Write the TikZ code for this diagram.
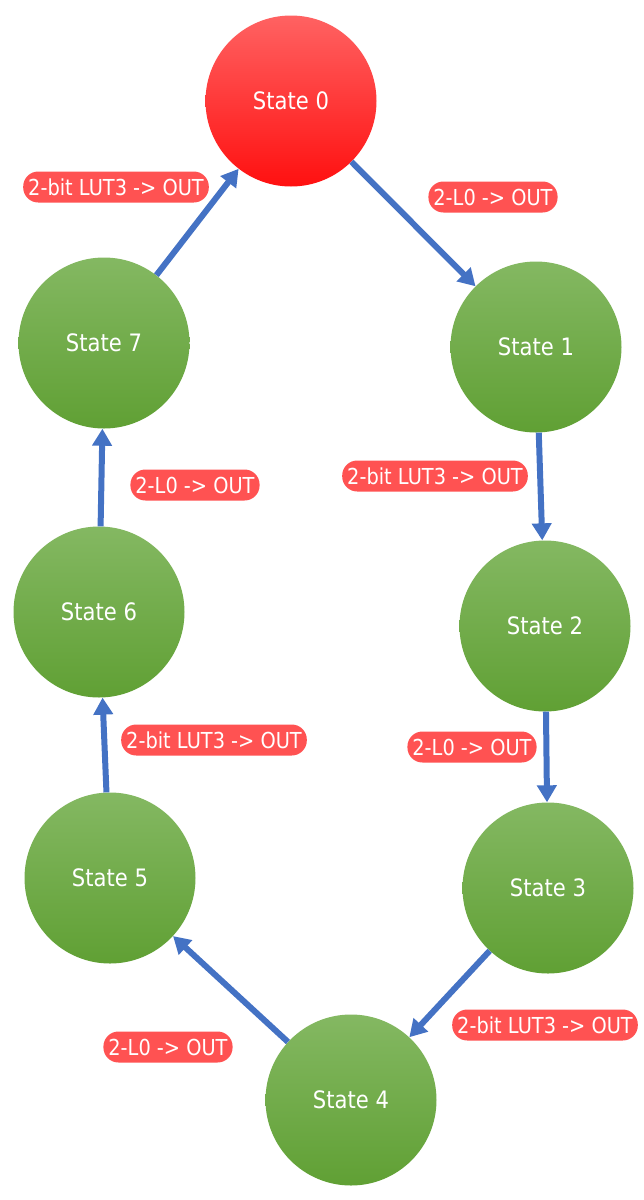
\documentclass[tikz,border=0pt]{standalone}
\usepackage{fontspec}
\setmainfont{DejaVu Sans}[FakeStretch=0.88]
\usetikzlibrary{arrows.meta}
\definecolor{arrowblue}{HTML}{4472C4}
\definecolor{labelred}{HTML}{FF5252}
\definecolor{redtop}{HTML}{FF6262}
\definecolor{redbot}{HTML}{FF1010}
\definecolor{greentop}{HTML}{84B862}
\definecolor{greenbot}{HTML}{60A034}
\tikzset{
  statenode/.style={circle, minimum size=171pt, inner sep=0pt, text=white,
    font=\fontsize{24}{28}\selectfont},
  startstate/.style={statenode, top color=redtop, bottom color=redbot},
  plainstate/.style={statenode, top color=greentop, bottom color=greenbot},
  tlabel/.style={fill=labelred, rounded corners=15pt, text=white, inner xsep=5pt,
    inner ysep=0pt, minimum height=31pt, font=\fontsize{22}{26}\selectfont},
  trans/.style={draw=arrowblue, line width=6pt, -{Triangle[width=19pt,length=17pt]}}
}
\begin{document}
\begin{tikzpicture}[x=1pt,y=-1pt]
\useasboundingbox (0,0) rectangle (643,1200);
\node[startstate] (s0) at (291,101) {State 0};
\node[plainstate] (s1) at (536,347) {State 1};
\node[plainstate] (s2) at (545,626) {State 2};
\node[plainstate] (s3) at (548,888) {State 3};
\node[plainstate] (s4) at (351,1100) {State 4};
\node[plainstate] (s5) at (110,878) {State 5};
\node[plainstate] (s6) at (99,612) {State 6};
\node[plainstate] (s7) at (104,343) {State 7};

\draw[trans] (s0) -- (s1);
\draw[trans] (s1) -- (s2);
\draw[trans] (s2) -- (s3);
\draw[trans] (s3) -- (s4);
\draw[trans] (s4) -- (s5);
\draw[trans] (s5) -- (s6);
\draw[trans] (s6) -- (s7);
\draw[trans] (s7) -- (s0);

\node[tlabel] (l70) at (116,187) {2-bit LUT3 -> OUT};
\node[tlabel] (l01) at (493,197) {2-L0 -> OUT};
\node[tlabel] (l12) at (435,476) {2-bit LUT3 -> OUT};
\node[tlabel] (l67) at (195,485) {2-L0 -> OUT};
\node[tlabel] (l56) at (214,740) {2-bit LUT3 -> OUT};
\node[tlabel] (l23) at (472,747) {2-L0 -> OUT};
\node[tlabel] (l34) at (545,1025) {2-bit LUT3 -> OUT};
\node[tlabel] (l45) at (168,1047) {2-L0 -> OUT};
\end{tikzpicture}
\end{document}
